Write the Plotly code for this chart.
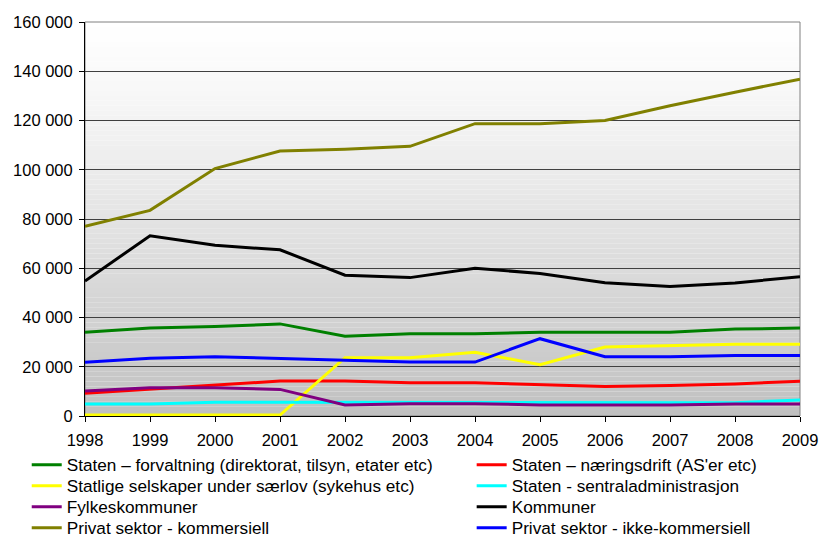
import plotly.graph_objects as go

years = list(range(1998, 2010))

names = [
    "Staten – forvaltning (direktorat, tilsyn, etater etc)",
    "Staten – næringsdrift (AS'er etc)",
    "Statlige selskaper under særlov (sykehus etc)",
    "Staten - sentraladministrasjon",
    "Fylkeskommuner",
    "Kommuner",
    "Privat sektor - kommersiell",
    "Privat sektor - ikke-kommersiell",
]

staten_forvaltning = [34000, 35700, 36300, 37400, 32400, 33400, 33400, 34000, 34000, 34000, 35300, 35700]
staten_naeringsdrift = [9200, 10800, 12600, 14200, 14200, 13500, 13500, 12700, 12000, 12400, 13000, 14100]
statlige_selskaper = [400, 400, 400, 400, 23700, 23700, 25900, 20800, 28000, 28500, 29100, 29100]
staten_sentraladm = [4900, 4900, 5600, 5600, 5600, 5400, 5600, 5400, 5400, 5400, 5400, 6500]
fylkeskommuner = [10200, 11500, 11500, 10800, 4500, 5000, 5000, 4500, 4500, 4500, 4900, 4900]
kommuner = [54800, 73200, 69300, 67500, 57200, 56200, 60000, 57900, 54100, 52600, 54000, 56600]
privat_kommersiell = [77000, 83500, 100500, 107600, 108300, 109500, 118700, 118700, 120000, 126000, 131500, 136800]
privat_ikke_kommersiell = [21800, 23500, 24100, 23500, 22600, 21900, 21900, 31400, 24100, 24100, 24600, 24600]

series = [staten_forvaltning, staten_naeringsdrift, statlige_selskaper, staten_sentraladm,
          fylkeskommuner, kommuner, privat_kommersiell, privat_ikke_kommersiell]
colors = ["#008000", "#ff0000", "#ffff00", "#00ffff", "#800080", "#000000", "#808000", "#0000ff"]

y_ticks = [0, 20000, 40000, 60000, 80000, 100000, 120000, 140000, 160000]

# legend placement: 2 columns x 4 rows (paper coords)
col_x = [-0.0815, 0.5408]
row_y = [-0.1244, -0.1777, -0.2310, -0.2843]

fig = go.Figure()
layout_legends = {}
for i, (name, vals, col) in enumerate(zip(names, series, colors)):
    key = "legend" if i == 0 else f"legend{i + 1}"
    fig.add_trace(go.Scatter(x=years, y=vals, name=name, mode="lines",
                             line=dict(color=col, width=3), legend=key))
    layout_legends[key] = dict(
        x=col_x[i % 2], y=row_y[i // 2], xanchor="left", yanchor="middle",
        orientation="v", bgcolor="rgba(0,0,0,0)", borderwidth=0,
        font=dict(size=17.2, color="black"), itemwidth=30,
    )

# vertical gradient background (white -> grey)
n = 80
shapes = []
for i in range(n):
    d = 1 - (i + 0.5) / n  # 0 at top, 1 at bottom
    v = int(round(255 - 63 * d ** 1.2))
    shapes.append(dict(type="rect", xref="paper", yref="paper", x0=0, x1=1,
                       y0=i / n, y1=(i + 1) / n, line=dict(width=0),
                       fillcolor=f"rgb({v},{v},{v})", layer="below"))
shapes.append(dict(type="rect", xref="paper", yref="paper", x0=0, x1=1, y0=0, y1=1,
                   line=dict(color="#808080", width=1), fillcolor="rgba(0,0,0,0)", layer="below"))

fig.update_layout(
    width=820, height=538,
    margin=dict(l=85, r=20, t=22, b=122, autoexpand=False),
    paper_bgcolor="white",
    plot_bgcolor="rgba(0,0,0,0)",
    separators=". ",
    font=dict(family="Liberation Sans, Arial, sans-serif", size=16.5, color="black"),
    shapes=shapes,
    showlegend=True,
    **layout_legends,
)
fig.update_xaxes(range=[1998, 2009], tickmode="array", tickvals=years,
                 ticktext=[str(y) for y in years],
                 showgrid=False, showline=True, linecolor="black", linewidth=1,
                 ticks="outside", ticklen=5, tickcolor="black", zeroline=False,
                 ticklabelstandoff=4, automargin=False)
fig.update_yaxes(range=[0, 160000], tickmode="array", tickvals=y_ticks,
                 tickformat=",d", showgrid=True, gridcolor="#404040", gridwidth=1,
                 showline=True, linecolor="black", linewidth=1,
                 ticks="outside", ticklen=5, tickcolor="black", zeroline=False,
                 ticklabelstandoff=3, automargin=False)

fig.write_html("out.html", config={"displayModeBar": False},
               post_script="document.body.style.margin='0';")
